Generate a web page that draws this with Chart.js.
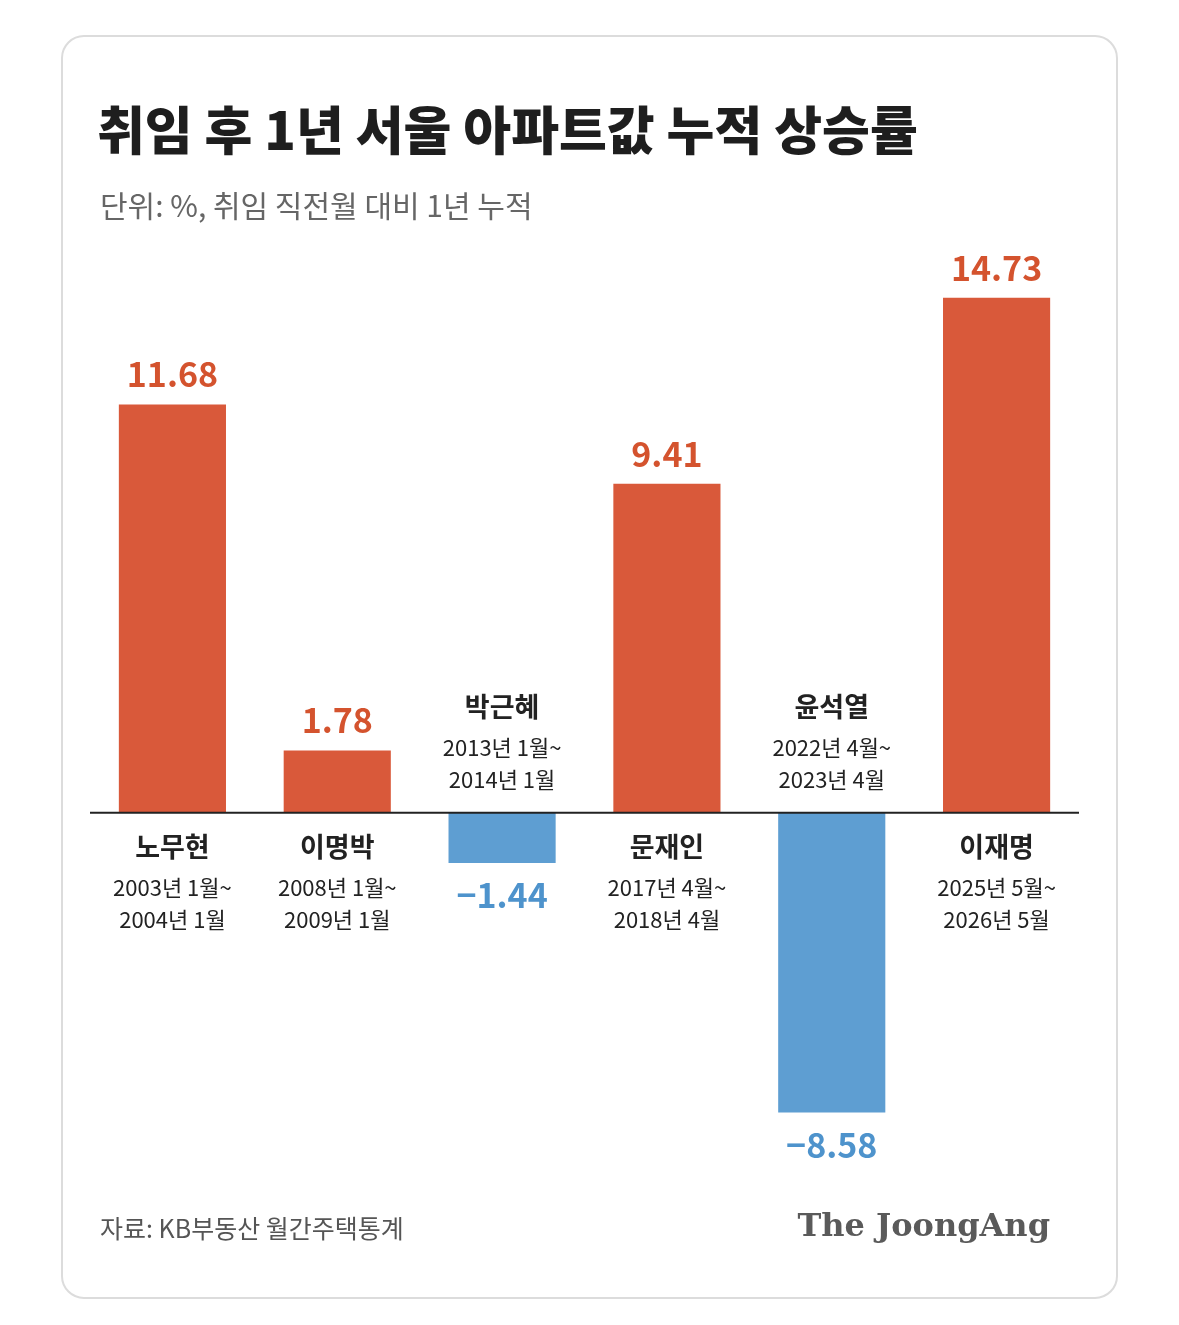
<!DOCTYPE html>
<html>
<head>
<meta charset="utf-8">
<script src="https://cdn.jsdelivr.net/npm/chart.js@4"></script>
<style>
  html, body { margin: 0; padding: 0; background: #fff; }
  #wrap { position: relative; width: 1179px; height: 1325px; }
</style>
</head>
<body>
<div id="wrap"><canvas id="c" width="1179" height="1325"></canvas></div>
<script>
var names = ['노무현', '이명박', '박근혜', '문재인', '윤석열', '이재명'];
var periodStart = ['2003년 1월~', '2008년 1월~', '2013년 1월~', '2017년 4월~', '2022년 4월~', '2025년 5월~'];
var periodEnd = ['2004년 1월', '2009년 1월', '2014년 1월', '2018년 4월', '2023년 4월', '2026년 5월'];
var rises = [11.68, 1.78, -1.44, 9.41, -8.58, 14.73];

var ORANGE = '#D9593A', ORANGE_TXT = '#D4532E';
var BLUE = '#5E9ED2', BLUE_TXT = '#4E93CC';
var FONT = '"Noto Sans CJK KR", "Noto Sans", sans-serif';

// card, title, baseline, labels drawn around the bars
var decor = {
    id: 'decor',
    beforeDraw: function(chart) {
        var ctx = chart.ctx;
        ctx.save();
        ctx.fillStyle = '#fff';
        ctx.fillRect(0, 0, chart.width, chart.height);
        ctx.strokeStyle = '#dcdcdc';
        ctx.lineWidth = 2;
        ctx.beginPath();
        ctx.roundRect(62, 36, 1055, 1262, 22);
        ctx.stroke();

        ctx.fillStyle = '#1e1e1e';
        ctx.textBaseline = 'middle';
        ctx.font = '900 52px ' + FONT;
        ctx.fillText('취임 후 1년 서울 아파트값 누적 상승률', 97, 130);
        ctx.fillStyle = '#666';
        ctx.font = '400 30px ' + FONT;
        ctx.fillText('단위: %, 취임 직전월 대비 1년 누적', 100, 206);

        ctx.fillStyle = '#555';
        ctx.font = '400 25px ' + FONT;
        ctx.fillText('자료: KB부동산 월간주택통계', 100, 1228);
        ctx.fillStyle = '#5a5a5a';
        ctx.textAlign = 'right';
        ctx.font = 'bold 32px "DejaVu Serif", "Liberation Serif", serif';
        ctx.fillText('The JoongAng', 1050, 1228);
        ctx.restore();
    },
    afterDatasetsDraw: function(chart) {
        var ctx = chart.ctx;
        var y0 = chart.scales.y.getPixelForValue(0);
        var area = chart.chartArea;
        ctx.save();
        ctx.strokeStyle = '#222';
        ctx.lineWidth = 2;
        ctx.beginPath();
        ctx.moveTo(area.left, y0);
        ctx.lineTo(area.right, y0);
        ctx.stroke();

        ctx.textAlign = 'center';
        ctx.textBaseline = 'middle';
        chart.getDatasetMeta(0).data.forEach(function(bar, i) {
            var v = rises[i];
            var up = v >= 0;
            ctx.fillStyle = up ? ORANGE_TXT : BLUE_TXT;
            ctx.font = 'bold 34px ' + FONT;
            var label = up ? v.toFixed(2) : '\u2212' + Math.abs(v).toFixed(2);
            ctx.fillText(label, bar.x, up ? bar.y - 30 : bar.y + 32);

            var ny = up ? y0 + 34 : y0 - 106;
            ctx.fillStyle = '#222';
            ctx.font = 'bold 27px ' + FONT;
            ctx.fillText(names[i], bar.x, ny);
            ctx.font = '400 22px ' + FONT;
            ctx.fillText(periodStart[i], bar.x, ny + 41);
            ctx.fillText(periodEnd[i], bar.x, ny + 73);
        });
        ctx.restore();
    }
};

new Chart(document.getElementById('c'), {
    type: 'bar',
    data: {
        labels: names,
        datasets: [{
            data: rises,
            backgroundColor: rises.map(function(v) { return v >= 0 ? ORANGE : BLUE; }),
            barPercentage: 0.65,
            categoryPercentage: 1
        }]
    },
    options: {
        responsive: false,
        animation: false,
        layout: { padding: { left: 90, right: 100, top: 236, bottom: 189 } },
        plugins: { legend: { display: false }, tooltip: { enabled: false } },
        scales: {
            x: { display: false },
            y: { display: false, min: -9.25, max: 16.5 }
        }
    },
    plugins: [decor]
});
</script>
</body>
</html>
